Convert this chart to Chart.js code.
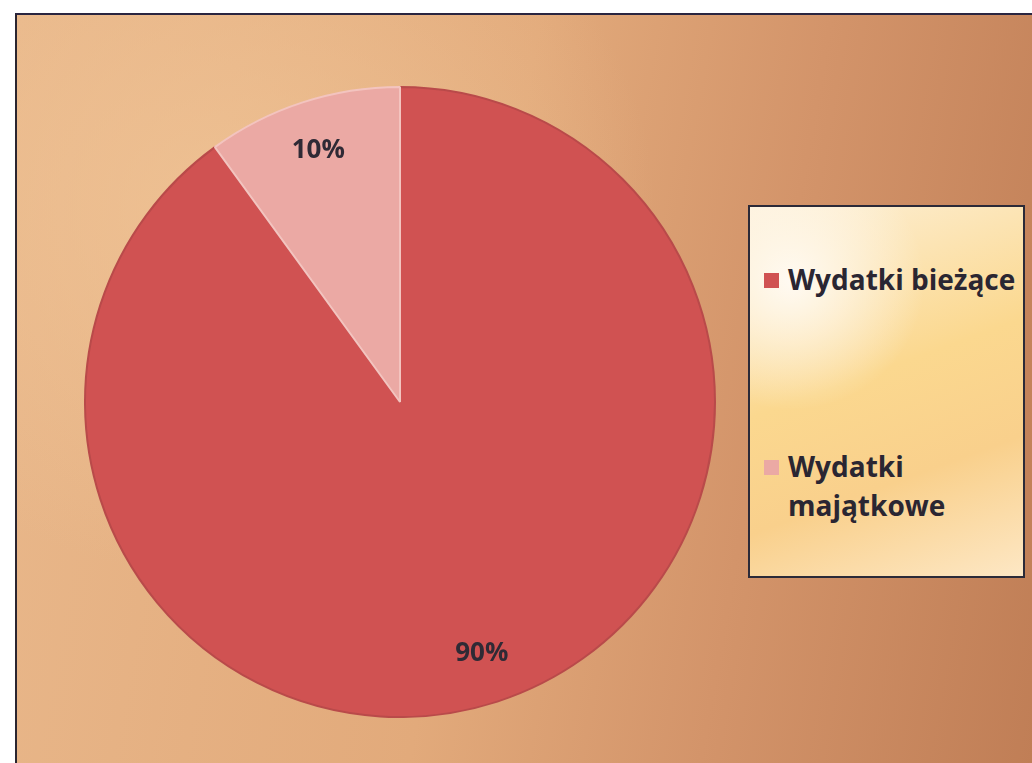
<!DOCTYPE html>
<html lang="pl">
<head>
<meta charset="utf-8">
<title>Struktura wydatków</title>
<script src="https://cdn.jsdelivr.net/npm/chart.js@4.4.1/dist/chart.umd.min.js"></script>
<style>
    html, body {
        margin: 0;
        padding: 0;
        background: #ffffff;
        overflow: hidden;
        width: 1032px;
        height: 763px;
    }
    .frame {
        position: absolute;
        left: 15px;
        top: 13px;
        width: 1030px;
        height: 760px;
        border-left: 2px solid #2a2530;
        border-top: 2px solid #2a2540;
        background:
            radial-gradient(ellipse 60% 70% at 20% 25%, rgba(240,196,150,0.8), rgba(240,196,150,0) 70%),
            linear-gradient(100deg, #e9b88b 0%, #e2aa7b 45%, #d3946a 70%, #bf7d55 100%);
    }
    .pie-wrap {
        position: absolute;
        left: 67px;
        top: 71px;
        width: 632px;
        height: 632px;
    }
    .legend {
        position: absolute;
        left: 731px;
        top: 190px;
        width: 273px;
        height: 369px;
        border: 2px solid #2b2a38;
        background:
            radial-gradient(ellipse 70% 50% at 15% 20%, #fffaf2, rgba(255,250,242,0) 70%),
            linear-gradient(160deg, #fdf0d8 0%, #fbd88f 45%, #f9d08c 70%, #fde7c4 100%);
        font-family: "Open Sans", "DejaVu Sans", sans-serif;
        font-weight: 700;
        font-size: 28px;
        color: #2a2632;
    }
    .legend-item {
        position: absolute;
        left: 14px;
        display: flex;
        align-items: flex-start;
        line-height: 39px;
    }
    .legend-item .box {
        width: 15px;
        height: 15px;
        margin: 13px 9px 0 0;
        flex: none;
    }
</style>
</head>
<body>
<div class="frame">
    <div class="pie-wrap"><canvas id="pieChart"></canvas></div>
    <div class="legend" id="legend"></div>
</div>
<script>
// Dane wykresu
const labels = ['Wydatki bieżące', 'Wydatki majątkowe'];
const legendLines = [['Wydatki bieżące'], ['Wydatki', 'majątkowe']];
const values = [90, 10];
const sliceColors = ['#d05252', '#eba9a4'];
const legendTops = [53, 240];

// Etykiety procentowe na wycinkach
const percentLabels = {
    id: 'percentLabels',
    afterDatasetsDraw(chart) {
        const ctx = chart.ctx;
        const meta = chart.getDatasetMeta(0);
        const total = values.reduce((a, b) => a + b, 0);
        ctx.save();
        ctx.font = '700 26px "Open Sans", "DejaVu Sans", sans-serif';
        ctx.fillStyle = '#2f2a35';
        ctx.textAlign = 'center';
        ctx.textBaseline = 'middle';
        meta.data.forEach((arc, i) => {
            const p = arc.getProps(['x', 'y', 'startAngle', 'endAngle', 'outerRadius'], true);
            const mid = (p.startAngle + p.endAngle) / 2;
            const r = p.outerRadius * 0.84;
            const x = p.x + Math.cos(mid) * r;
            const y = p.y + Math.sin(mid) * r;
            ctx.fillText(Math.round(values[i] / total * 100) + '%', x, y);
        });
        ctx.restore();
    }
};

const ctx = document.getElementById('pieChart').getContext('2d');
new Chart(ctx, {
    type: 'pie',
    data: {
        labels: labels,
        datasets: [{
            data: values,
            backgroundColor: sliceColors,
            borderColor: ['#b94a4a', '#f3c4bf'],
            borderWidth: 2
        }]
    },
    options: {
        responsive: true,
        maintainAspectRatio: false,
        animation: false,
        layout: { padding: 0 },
        plugins: {
            legend: { display: false },
            tooltip: { enabled: false }
        }
    },
    plugins: [percentLabels]
});

// Legenda
const legend = document.getElementById('legend');
labels.forEach((label, i) => {
    const item = document.createElement('div');
    item.className = 'legend-item';
    item.style.top = legendTops[i] + 'px';
    const box = document.createElement('span');
    box.className = 'box';
    box.style.background = sliceColors[i];
    const text = document.createElement('span');
    text.innerHTML = legendLines[i].join('<br>');
    item.appendChild(box);
    item.appendChild(text);
    legend.appendChild(item);
});
</script>
</body>
</html>
